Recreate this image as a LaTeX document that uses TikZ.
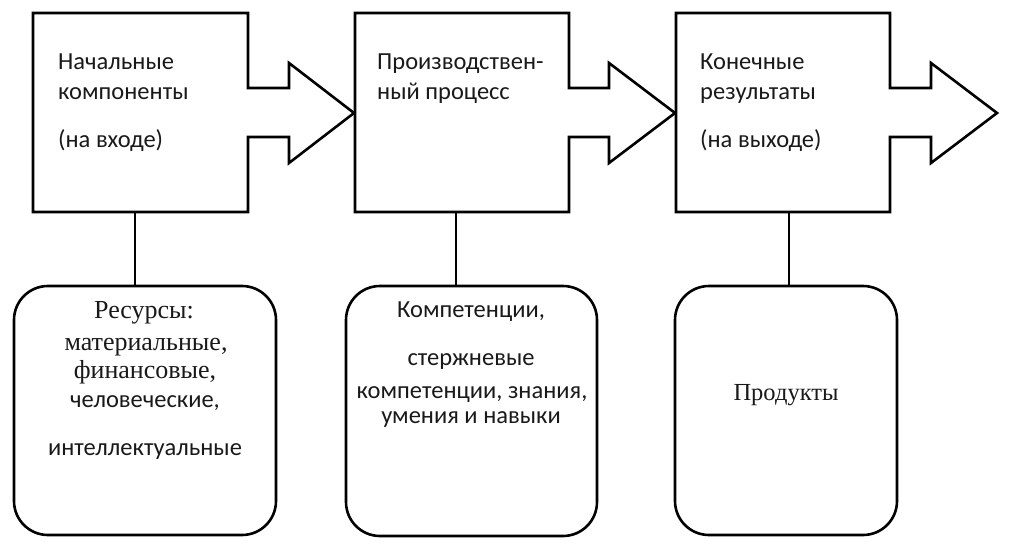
\documentclass[tikz,border=0pt]{standalone}
\usepackage{fontspec}
\setmainfont{Carlito}
\newfontfamily\serifru{Liberation Serif}
\begin{document}
\begin{tikzpicture}[x=1pt,y=-1pt,
  outline/.style={draw=black,line width=2.6pt,line join=miter},
  rbox/.style={draw=black,line width=2.6pt,rounded corners=34pt,inner sep=0pt},
  link/.style={draw=black,line width=2.6pt},
  toptext/.style={anchor=base west,inner sep=0pt,font=\fontsize{24.5}{28}\selectfont,text=black!90},
  sanstext/.style={anchor=base,inner sep=0pt,font=\fontsize{24.5}{28}\selectfont,text=black!90},
  seriftext/.style={anchor=base,inner sep=0pt,font=\serifru\fontsize{26}{30}\selectfont,text=black!90},
  seriftextb/.style={anchor=base,inner sep=0pt,font=\serifru\fontsize{24.5}{28}\selectfont,text=black!90}]
\useasboundingbox (0,0) rectangle (1016,551);
% top boxes with arrows
\draw[outline] (33,13) -- (248,13) -- (248,88) -- (289,88) -- (289,63) -- (354,113)
  -- (289,163) -- (289,137) -- (248,137) -- (248,212) -- (33,212) -- cycle;
\draw[outline] (355,13) -- (569,13) -- (569,88) -- (609,88) -- (609,63) -- (675,113)
  -- (609,163) -- (609,137) -- (569,137) -- (569,212) -- (355,212) -- cycle;
\draw[outline] (676,13) -- (890,13) -- (890,88) -- (931,88) -- (931,63) -- (997,113)
  -- (931,163) -- (931,137) -- (890,137) -- (890,212) -- (676,212) -- cycle;
\coordinate (b1) at (135,212);
\coordinate (b2) at (456,212);
\coordinate (b3) at (789,212);
% texts in top boxes
\node[toptext] (t1a) at (58,69) {Начальные};
\node[toptext] (t1b) at (58,99) {компоненты};
\node[toptext] (t1c) at (58,147) {(на входе)};
\node[toptext] (t2a) at (377,69) {Производствен-};
\node[toptext] (t2b) at (377,99) {ный процесс};
\node[toptext] (t3a) at (700,69) {Конечные};
\node[toptext] (t3b) at (700,99) {результаты};
\node[toptext] (t3c) at (700,147) {(на выходе)};
% rounded boxes
\node[rbox,minimum width=262pt,minimum height=249pt] (r1) at (145,410.5) {};
\node[rbox,minimum width=251pt,minimum height=250pt] (r2) at (471.5,411) {};
\node[rbox,minimum width=222pt,minimum height=249pt] (r3) at (786,410.5) {};
% connectors
\draw[link] (b1) -- (b1 |- r1.north);
\draw[link] (b2) -- (b2 |- r2.north);
\draw[link] (b3) -- (b3 |- r3.north);
% texts in rounded boxes
\node[seriftext] (r1a) at (144,318) {Ресурсы:};
\node[seriftext] (r1b) at (146,350) {материальные,};
\node[seriftext] (r1c) at (145,378) {финансовые,};
\node[sanstext] (r1d) at (145,407) {человеческие,};
\node[sanstext] (r1e) at (145,455) {интеллектуальные};
\node[sanstext] (r2a) at (471,317) {Компетенции,};
\node[sanstext] (r2b) at (471,365) {стержневые};
\node[sanstext] (r2c) at (472,398) {компетенции, знания,};
\node[sanstext] (r2d) at (471,423) {умения и навыки};
\node[seriftextb] (r3a) at (786,400) {Продукты};
\end{tikzpicture}
\end{document}
